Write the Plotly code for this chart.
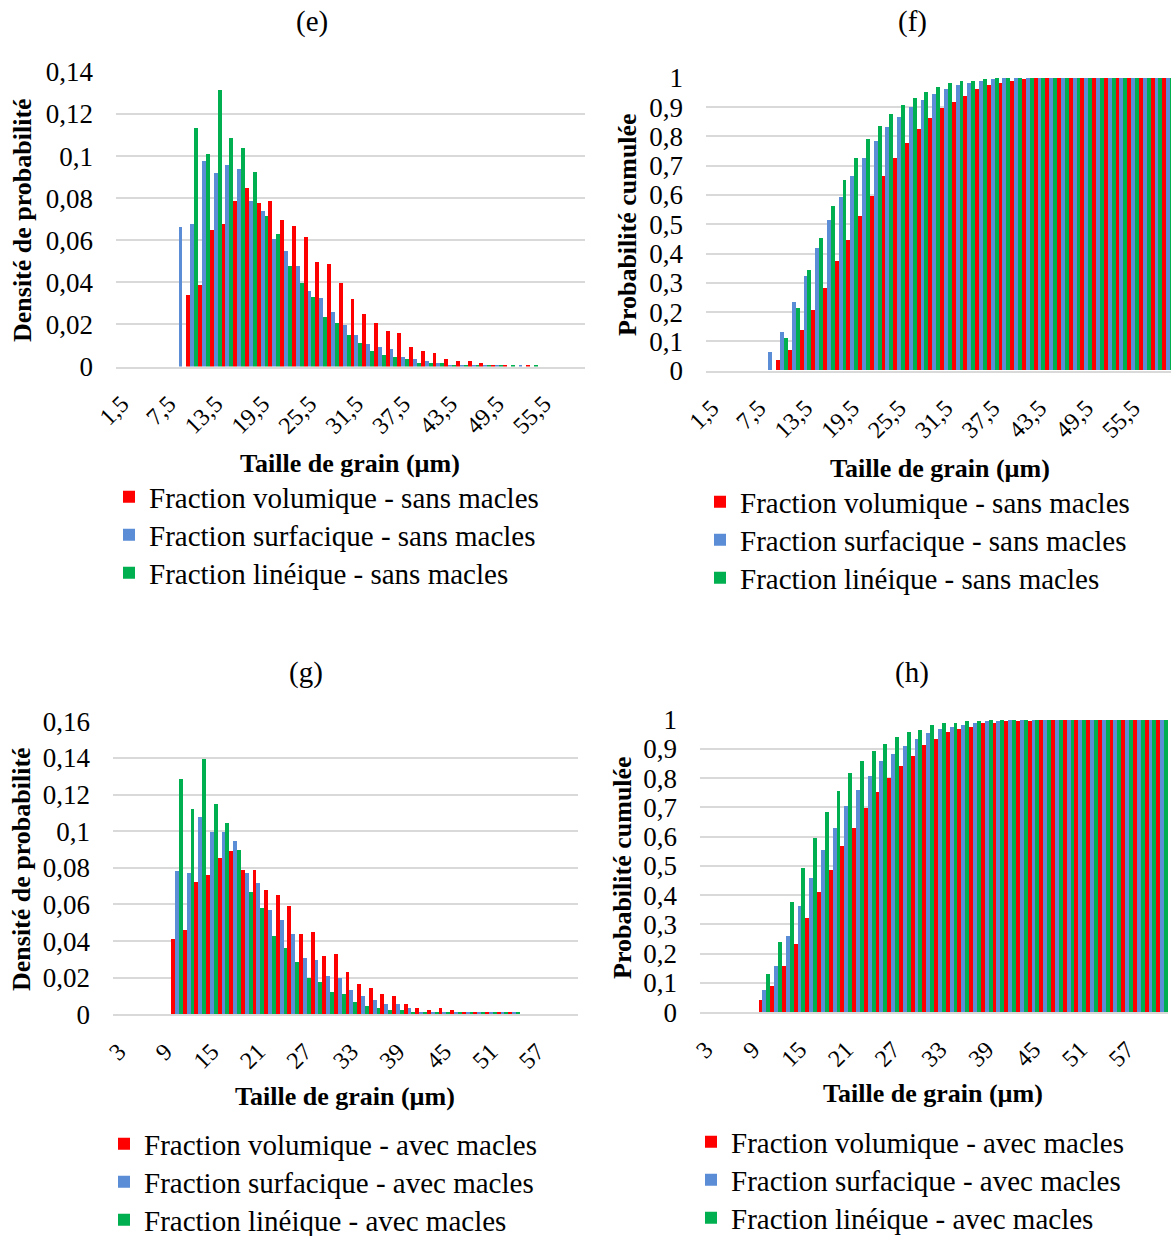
import plotly.graph_objects as go

W, H = 1171, 1236
FONT = "Liberation Serif"
RED, BLUE, GREEN = "#FF0000", "#5B8DD6", "#00B050"

# ---------------- data ----------------
cats_sans = ["1,5", "3", "4,5", "6", "7,5", "9", "10,5", "12", "13,5", "15",
             "16,5", "18", "19,5", "21", "22,5", "24", "25,5", "27", "28,5", "30",
             "31,5", "33", "34,5", "36", "37,5", "39", "40,5", "42", "43,5", "45",
             "46,5", "48", "49,5", "51", "52,5", "54", "55,5", "57", "58,5", "60"]
cats_avec = ["3", "4,5", "6", "7,5", "9", "10,5", "12", "13,5", "15", "16,5",
             "18", "19,5", "21", "22,5", "24", "25,5", "27", "28,5", "30", "31,5",
             "33", "34,5", "36", "37,5", "39", "40,5", "42", "43,5", "45", "46,5",
             "48", "49,5", "51", "52,5", "54", "55,5", "57", "58,5", "60", "61,5"]

# (e) densité - sans macles
e_vol = [0, 0, 0, 0, 0, 0, 0.034, 0.039, 0.065, 0.068,
         0.079, 0.085, 0.078, 0.079, 0.070, 0.067, 0.062, 0.050, 0.049, 0.040,
         0.0325, 0.025, 0.021, 0.017, 0.016, 0.0095, 0.0076, 0.0067, 0.0038, 0.003,
         0.003, 0.002, 0.001, 0.001, 0, 0.001, 0, 0, 0, 0]
e_surf = [0, 0, 0, 0, 0, 0.0667, 0.0678, 0.098, 0.092, 0.096,
          0.094, 0.079, 0.074, 0.061, 0.055, 0.048, 0.036, 0.033, 0.026, 0.020,
          0.015, 0.011, 0.0095, 0.0086, 0.0048, 0.0038, 0.003, 0.002, 0.001, 0.001,
          0.001, 0.001, 0.001, 0, 0.001, 0, 0, 0, 0, 0]
e_lin = [0, 0, 0, 0, 0, 0, 0.1135, 0.101, 0.1315, 0.109,
         0.104, 0.0925, 0.0716, 0.063, 0.048, 0.040, 0.0334, 0.024, 0.021, 0.015,
         0.0114, 0.0076, 0.0057, 0.0048, 0.0038, 0.002, 0.002, 0.002, 0.001, 0.001,
         0.001, 0.001, 0.001, 0.001, 0, 0.001, 0, 0, 0, 0]

# (f) probabilité cumulée - sans macles
f_vol = [0, 0, 0, 0, 0, 0, 0.036, 0.070, 0.139, 0.207,
         0.282, 0.372, 0.445, 0.528, 0.597, 0.665, 0.727, 0.775, 0.823, 0.862,
         0.895, 0.917, 0.938, 0.960, 0.974, 0.981, 0.988, 0.995, 0.997, 0.998,
         0.999, 1, 1, 1, 1, 1, 1, 1, 1, 1]
f_surf = [0, 0, 0, 0, 0, 0.0625, 0.132, 0.234, 0.323, 0.418,
          0.515, 0.591, 0.665, 0.726, 0.782, 0.830, 0.864, 0.898, 0.925, 0.945,
          0.960, 0.974, 0.981, 0.988, 0.995, 1, 1, 1, 1, 1,
          1, 1, 1, 1, 1, 1, 1, 1, 1, 1]
f_lin = [0, 0, 0, 0, 0, 0, 0.111, 0.214, 0.343, 0.452,
         0.5625, 0.651, 0.726, 0.789, 0.836, 0.877, 0.905, 0.932, 0.952, 0.967,
         0.981, 0.988, 0.988, 0.995, 1, 1, 1, 1, 1, 1,
         1, 1, 1, 1, 1, 1, 1, 1, 1, 1]

# (g) densité - avec macles
g_vol = [0, 0, 0, 0, 0, 0.041, 0.046, 0.0725, 0.076, 0.0856,
         0.089, 0.079, 0.079, 0.068, 0.065, 0.059, 0.044, 0.045, 0.032, 0.033,
         0.023, 0.0165, 0.0144, 0.011, 0.0098, 0.0055, 0.0033, 0.0022, 0.0033, 0.0022,
         0.001, 0.001, 0.001, 0.001, 0.001, 0, 0, 0, 0, 0]
g_surf = [0, 0, 0, 0, 0, 0.078, 0.077, 0.1076, 0.0998, 0.0998,
          0.0944, 0.077, 0.0715, 0.057, 0.0516, 0.044, 0.0307, 0.0296, 0.021, 0.0198,
          0.0133, 0.010, 0.0078, 0.0056, 0.0055, 0.0033, 0.0011, 0.001, 0.001, 0.001,
          0.001, 0.001, 0.001, 0.001, 0.001, 0, 0, 0, 0, 0]
g_lin = [0, 0, 0, 0, 0, 0.1285, 0.112, 0.1395, 0.115, 0.1044,
         0.090, 0.067, 0.058, 0.043, 0.036, 0.0285, 0.020, 0.0176, 0.012, 0.011,
         0.0065, 0.0045, 0.0033, 0.0022, 0.0022, 0.0011, 0.001, 0.001, 0.001, 0.001,
         0.001, 0.001, 0.001, 0.001, 0.001, 0, 0, 0, 0, 0]

# (h) probabilité cumulée - avec macles
h_vol = [0, 0, 0, 0, 0, 0.042, 0.090, 0.158, 0.234, 0.323,
         0.4125, 0.4875, 0.569, 0.631, 0.699, 0.753, 0.801, 0.843, 0.877, 0.913,
         0.934, 0.956, 0.969, 0.976, 0.989, 0.989, 0.996, 0.996, 0.996, 1,
         1, 1, 1, 1, 1, 1, 1, 1, 1, 1]
h_surf = [0, 0, 0, 0, 0, 0.076, 0.158, 0.261, 0.364, 0.460,
          0.556, 0.631, 0.706, 0.760, 0.808, 0.857, 0.884, 0.911, 0.932, 0.954,
          0.969, 0.976, 0.982, 0.989, 0.996, 0.996, 1, 1, 1, 1,
          1, 1, 1, 1, 1, 1, 1, 1, 1, 1]
h_lin = [0, 0, 0, 0, 0, 0.131, 0.241, 0.377, 0.494, 0.597,
         0.685, 0.755, 0.816, 0.857, 0.891, 0.918, 0.939, 0.959, 0.966, 0.981,
         0.989, 0.989, 0.996, 0.996, 1, 1, 1, 1, 1, 1,
         1, 1, 1, 1, 1, 1, 1, 1, 1, 1]

names_sans = ["Fraction volumique - sans macles", "Fraction surfacique - sans macles",
              "Fraction linéique - sans macles"]
names_avec = ["Fraction volumique - avec macles", "Fraction surfacique - avec macles",
              "Fraction linéique - avec macles"]
panel_titles = ["(e)", "(f)", "(g)", "(h)"]
y_titles = ["Densité de probabilité", "Probabilité cumulée"]
x_title = "Taille de grain (µm)"

# ---------------- layout geometry (pixels) ----------------
def fx(px):
    return px / W

def fy(py):
    return 1 - py / H

panels = [
    dict(cats=cats_sans, ys=[e_vol, e_surf, e_lin], names=names_sans,
         xd=(116, 585), yd=(71.5, 366.5), yr=[0, 0.1402], dt=0.02, xr=[-0.5, 39.5],
         leg_x=150, leg_y=[497, 535, 573]),
    dict(cats=cats_sans, ys=[f_vol, f_surf, f_lin], names=names_sans,
         xd=(706, 1171), yd=(77.3, 370.7), yr=[0, 1.002], dt=0.1, xr=[-0.5, 39.24],
         leg_x=741, leg_y=[502, 540, 578]),
    dict(cats=cats_avec, ys=[g_vol, g_surf, g_lin], names=names_avec,
         xd=(113, 578), yd=(721, 1014.3), yr=[0, 0.1602], dt=0.02, xr=[-0.5, 39.5],
         leg_x=145, leg_y=[1144, 1182, 1220]),
    dict(cats=cats_avec, ys=[h_vol, h_surf, h_lin], names=names_avec,
         xd=(700, 1168), yd=(719, 1012.3), yr=[0, 1.002], dt=0.1, xr=[-0.5, 39.5],
         leg_x=732, leg_y=[1142, 1180, 1218]),
]

fig = go.Figure()
colors = [RED, BLUE, GREEN]
layout_axes = {}
leg_n = 0
for i, p in enumerate(panels):
    k = "" if i == 0 else str(i + 1)
    for ys, nm, col, ly in zip(p["ys"], p["names"], colors, p["leg_y"]):
        leg_n += 1
        leg = "legend" if leg_n == 1 else "legend" + str(leg_n)
        fig.add_trace(go.Bar(x=p["cats"], y=ys, name=nm, marker_color=col,
                             marker_line_width=0, xaxis="x" + k, yaxis="y" + k,
                             legend=leg))
        layout_axes[leg] = dict(x=fx(p["leg_x"] - 41), y=fy(ly), xanchor="left",
                                yanchor="middle",
                                font=dict(family=FONT, size=29, color="black"),
                                bgcolor="rgba(0,0,0,0)", itemwidth=30)
    layout_axes["xaxis" + k] = dict(
        domain=[fx(p["xd"][0]), fx(p["xd"][1])], anchor="y" + k, type="category",
        range=p["xr"], tickmode="array", tickvals=p["cats"][::4],
        ticktext=p["cats"][::4], tickangle=-45, showgrid=False, showline=True,
        linecolor="#d9d9d9", linewidth=1.5, ticks="", ticklabelstandoff=12,
        automargin=False,
        tickfont=dict(family=FONT, size=24, color="black"))
    layout_axes["yaxis" + k] = dict(
        domain=[fy(p["yd"][1]), fy(p["yd"][0])], anchor="x" + k, range=p["yr"],
        dtick=p["dt"], tick0=0, showgrid=True, gridcolor="#d9d9d9", gridwidth=1.5,
        zeroline=False, showline=False, ticks="", ticklabelstandoff=22,
        automargin=False,
        tickfont=dict(family=FONT, size=27, color="black"))

annots = []
title_pos = [(312, 22), (912, 22), (306, 672), (912, 672)]
for t, (x, y) in zip(panel_titles, title_pos):
    annots.append(dict(text=t, x=fx(x), y=fy(y), xref="paper", yref="paper",
                       showarrow=False, font=dict(family=FONT, size=29, color="black"),
                       xanchor="center", yanchor="middle"))
ytitle_pos = [(22, 220, 0), (627, 225, 1), (22, 869, 0), (622, 868, 1)]
for x, y, j in ytitle_pos:
    annots.append(dict(text="<b>" + y_titles[j] + "</b>", x=fx(x), y=fy(y),
                       xref="paper", yref="paper", showarrow=False, textangle=-90,
                       font=dict(family=FONT, size=26, color="black"),
                       xanchor="center", yanchor="middle"))
xtitle_pos = [(350, 463), (940, 468), (345, 1096), (933, 1093)]
for x, y in xtitle_pos:
    annots.append(dict(text="<b>" + x_title + "</b>", x=fx(x), y=fy(y),
                       xref="paper", yref="paper", showarrow=False,
                       font=dict(family=FONT, size=26, color="black"),
                       xanchor="center", yanchor="middle"))

fig.update_layout(
    width=W, height=H, margin=dict(l=0, r=0, t=0, b=0, pad=0, autoexpand=False),
    paper_bgcolor="white", plot_bgcolor="white",
    barmode="group", bargap=0, bargroupgap=0, separators=",.",
    annotations=annots, showlegend=True, **layout_axes)

fig.write_html("out.html", config={"displayModeBar": False},
               post_script="document.body.style.margin='0';"
                           "document.body.style.overflow='hidden';")
